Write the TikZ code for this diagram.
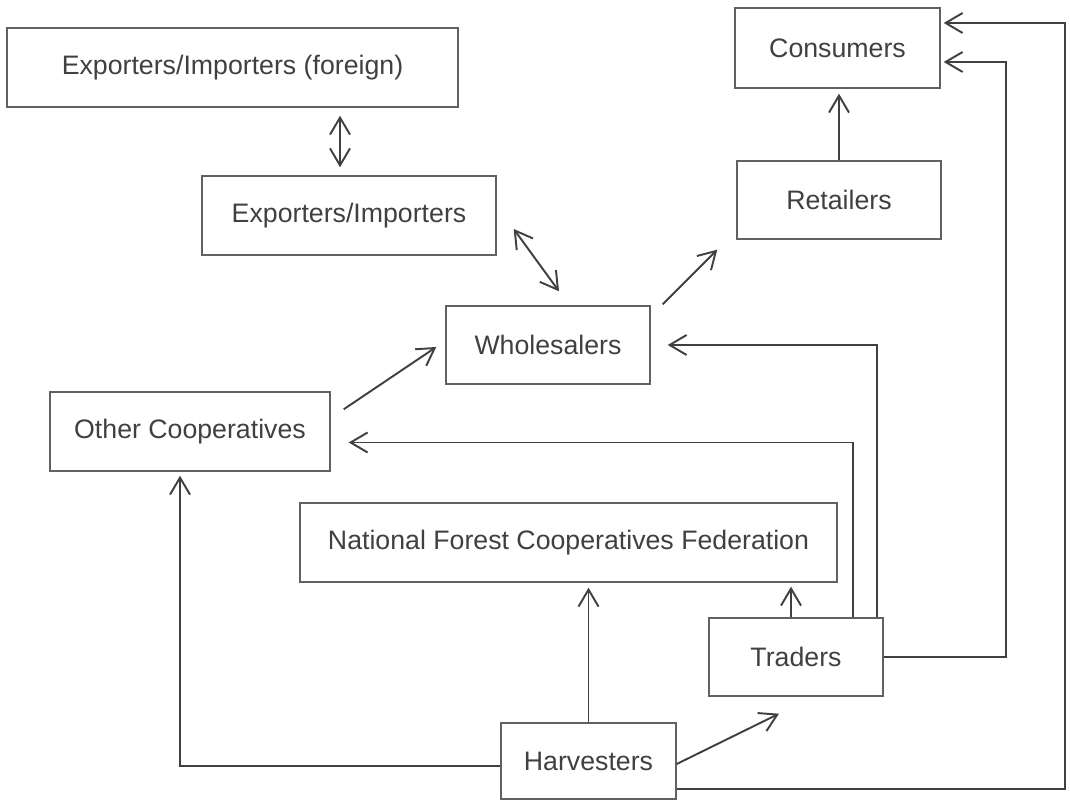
\documentclass[tikz,border=0pt]{standalone}
\usepackage{fontspec}
\setmainfont{Liberation Sans}
\usetikzlibrary{arrows.meta}

\definecolor{ink}{gray}{0.25}
\definecolor{frame}{gray}{0.38}

\begin{document}
\begin{tikzpicture}[
  box/.style={draw=frame,line width=0.8pt,text=ink,inner sep=0pt,font=\fontsize{15.2}{18}\selectfont},
  flow/.style={draw=ink,line width=1.1pt},
  >={Straight Barb[length=0.34cm,width=0.4cm]}]

% Fix the page size
\useasboundingbox (0,0) rectangle (21.4,16);

% Boxes
\node[box,minimum width=9.02cm,minimum height=1.58cm] (foreign) at (4.65,14.65) {Exporters/Importers (foreign)};
\node[box,minimum width=5.88cm,minimum height=1.58cm] (expimp) at (6.98,11.69) {Exporters/Importers};
\node[box,minimum width=4.10cm,minimum height=1.60cm] (consumers) at (16.75,15.04) {Consumers};
\node[box,minimum width=4.08cm,minimum height=1.56cm] (retailers) at (16.78,12.0) {Retailers};
\node[box,minimum width=4.08cm,minimum height=1.56cm] (wholesalers) at (10.96,9.1) {Wholesalers};
\node[box,minimum width=5.6cm,minimum height=1.58cm] (othercoop) at (3.8,7.37) {Other Cooperatives};
\node[box,minimum width=10.74cm,minimum height=1.58cm] (nfcf) at (11.37,5.15) {National Forest Cooperatives Federation};
\node[box,minimum width=3.48cm,minimum height=1.56cm] (traders) at (15.92,2.86) {Traders};
\node[box,minimum width=3.5cm,minimum height=1.52cm] (harvesters) at (11.77,0.78) {Harvesters};

% Two-way trade
\draw[flow,<->,shorten <=0.16cm,shorten >=0.16cm] ([xshift=-0.18cm]expimp.north) -- ([xshift=-0.18cm]expimp.north |- foreign.south);
\draw[flow,<->] ([shift={(0.34,-0.27)}]expimp.east) -- ([shift={(0.22,0.28)}]wholesalers.north);

% Down the chain to consumers
\draw[flow,->] ([shift={(0.24,0.02)}]wholesalers.north east) -- ([shift={(-0.38,-0.2)}]retailers.south west);
\draw[flow,->,shorten >=0.1cm] (retailers.north) -- (retailers.north |- consumers.south);
\draw[flow,->] ([shift={(0.26,-0.36)}]othercoop.north east) -- ([shift={(-0.18,-0.04)}]wholesalers.west);

% From harvesters
\draw[flow,->,shorten >=0.1cm] (harvesters.north) -- (harvesters.north |- nfcf.south);
\draw[flow,->] ([yshift=-0.06cm]harvesters.east) -- ([shift={(-0.34,-0.34)}]traders.south);
\draw[flow,->,shorten >=0.08cm] ([yshift=-0.1cm]harvesters.west) -| ([xshift=-0.2cm]othercoop.south);
\draw[flow,->,shorten >=0.06cm] ([yshift=-0.56cm]harvesters.east) -- ++(7.76,0) |- ([yshift=0.5cm]consumers.east);

% From traders
\draw[flow,->,shorten >=0.08cm] ([xshift=-0.1cm]traders.north) -- ([xshift=-0.1cm]traders.north |- nfcf.south);
\draw[flow,->,shorten >=0.36cm] ([xshift=1.14cm]traders.north) |- ([yshift=-0.22cm]othercoop.east);
\draw[flow,->,shorten >=0.34cm] ([xshift=1.62cm]traders.north) |- (wholesalers.east);
\draw[flow,->,shorten >=0.06cm] (traders.east) -- ++(2.44,0) |- ([yshift=-0.28cm]consumers.east);

\end{tikzpicture}
\end{document}
